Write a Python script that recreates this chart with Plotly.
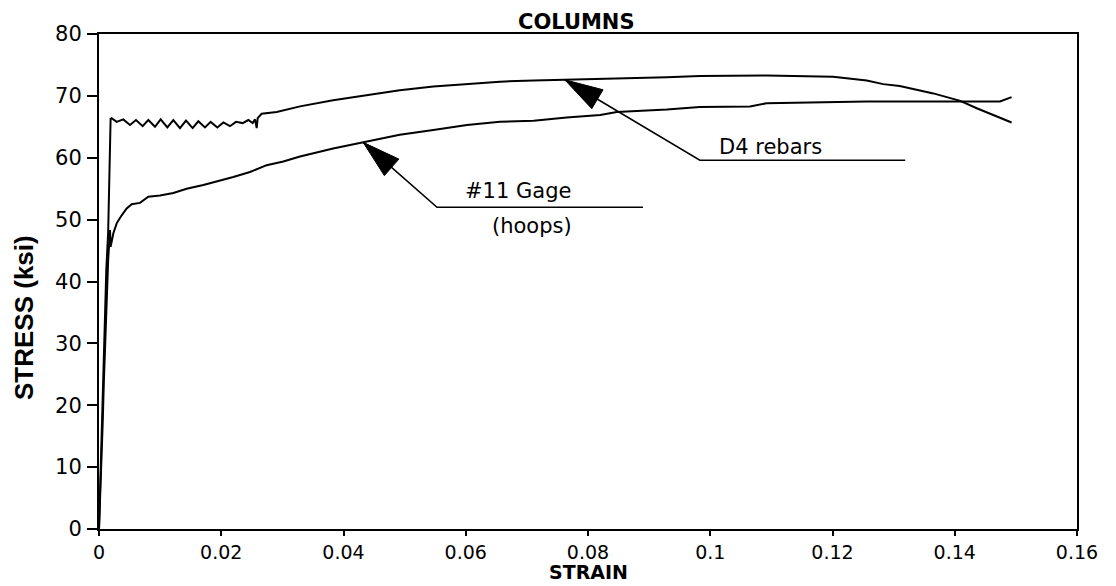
import plotly.graph_objects as go

# ---------------- data ----------------
d4_strain = [0.0, 0.0003, 0.0006, 0.0009, 0.0012, 0.0015, 0.0017, 0.0018, 0.0019, 0.00207,
             0.00289, 0.00398, 0.00507, 0.00605, 0.00714, 0.00807, 0.00916, 0.01009, 0.01118,
             0.01216, 0.01325, 0.01423, 0.01532, 0.01625, 0.01734, 0.01827, 0.01936, 0.02034,
             0.02143, 0.02241, 0.02350, 0.02443, 0.02514, 0.02552, 0.02580, 0.02596, 0.02661,
             0.02907, 0.03289, 0.0383, 0.0438, 0.0492, 0.0547, 0.0602, 0.0656, 0.0711, 0.0765,
             0.0820, 0.0874, 0.0929, 0.0983, 0.1092, 0.1201, 0.1229, 0.1256, 0.1283, 0.1310,
             0.1365, 0.1409, 0.1436, 0.1463, 0.1493]
d4_stress = [0.0, 10.0, 22.0, 33.0, 42.0, 48.0, 55.0, 62.0, 66.3, 66.4,
             65.8, 66.2, 65.3, 66.1, 65.1, 66.1, 65.0, 66.2, 64.9,
             66.1, 64.8, 66.0, 64.8, 65.9, 64.9, 65.8, 64.9, 65.7,
             65.1, 65.8, 65.6, 66.1, 65.6, 66.2, 64.8, 66.4, 67.1,
             67.4, 68.3, 69.3, 70.1, 70.9, 71.5, 71.9, 72.3, 72.5, 72.6,
             72.7, 72.8, 73.0, 73.2, 73.3, 73.1, 72.8, 72.5, 71.9, 71.6,
             70.4, 69.2, 68.0, 66.9, 65.7]

hoop_strain = [0.0, 0.0002, 0.0004, 0.0006, 0.0008, 0.0010, 0.00125, 0.0015, 0.0018, 0.0019,
               0.00235, 0.00289, 0.00371, 0.00453, 0.00535, 0.00671, 0.00807, 0.00998, 0.01216,
               0.01434, 0.01707, 0.01979, 0.02197, 0.02470, 0.02743, 0.03015, 0.03289, 0.0383,
               0.0438, 0.0492, 0.0547, 0.0602, 0.0656, 0.0711, 0.0765, 0.0820, 0.0847, 0.0929,
               0.0983, 0.1065, 0.1092, 0.1256, 0.1474, 0.1493]
hoop_stress = [0.0, 5.0, 10.0, 17.0, 24.0, 30.0, 34.3, 43.5, 48.3, 45.6,
               47.8, 49.4, 50.7, 51.8, 52.5, 52.7, 53.7, 53.9, 54.3,
               55.0, 55.6, 56.3, 56.9, 57.7, 58.8, 59.4, 60.2, 61.5,
               62.6, 63.7, 64.5, 65.3, 65.8, 66.0, 66.5, 66.9, 67.4, 67.8,
               68.2, 68.3, 68.8, 69.1, 69.1, 69.8]

x_ticks = [0, 0.02, 0.04, 0.06, 0.08, 0.10, 0.12, 0.14, 0.16]
x_tick_labels = ["0", "0.02", "0.04", "0.06", "0.08", "0.1", "0.12", "0.14", "0.16"]
y_ticks = [0, 10, 20, 30, 40, 50, 60, 70, 80]
y_tick_labels = ["0", "10", "20", "30", "40", "50", "60", "70", "80"]

title_text = "COLUMNS"
x_title = "STRAIN"
y_title = "STRESS (ksi)"
label_d4 = "D4 rebars"
label_hoop_1 = "#11 Gage"
label_hoop_2 = "(hoops)"

# ---------------- layout geometry ----------------
PAGE_OFF = 8                      # default <body> margin of the html page
W, H = 1116 - PAGE_OFF, 586 - PAGE_OFF
# plot area wanted on the page: x 99..1077, y 34..529
PL, PR, PT, PB = 99, 1077, 34, 529
L, T = PL - PAGE_OFF, PT - PAGE_OFF
R, B = W - (PR - PAGE_OFF), H - (PB - PAGE_OFF)
X_RANGE = [0.0, 0.16]
Y_RANGE = [0.0, 80.0]
PW, PH = PR - PL, PB - PT


def paper_x(page_x):
    return (page_x - PL) / PW


def paper_y(page_y):
    return (PB - page_y) / PH


# annotation leader geometry (tip, elbow, end) in data units
leader_d4 = [(0.0762, 72.6), (0.0983, 59.6), (0.1319, 59.6)]
leader_hoop = [(0.0432, 62.5), (0.0553, 52.0), (0.0890, 52.0)]
HEAD_LEN, HEAD_HALF = 38, 11  # px


def to_px(x, y):
    return (PL + (x - X_RANGE[0]) / (X_RANGE[1] - X_RANGE[0]) * PW,
            PT + (Y_RANGE[1] - y) / (Y_RANGE[1] - Y_RANGE[0]) * PH)


def to_data(px, py):
    return (X_RANGE[0] + (px - PL) / PW * (X_RANGE[1] - X_RANGE[0]),
            Y_RANGE[1] - (py - PT) / PH * (Y_RANGE[1] - Y_RANGE[0]))


def head_path(tip, tail):
    tx, ty = to_px(*tip)
    bx, by = to_px(*tail)
    dx, dy = bx - tx, by - ty
    n = (dx * dx + dy * dy) ** 0.5
    ux, uy = dx / n, dy / n
    cx, cy = tx + ux * HEAD_LEN, ty + uy * HEAD_LEN
    p1 = to_data(cx - uy * HEAD_HALF, cy + ux * HEAD_HALF)
    p2 = to_data(cx + uy * HEAD_HALF, cy - ux * HEAD_HALF)
    return f"M {tip[0]},{tip[1]} L {p1[0]},{p1[1]} L {p2[0]},{p2[1]} Z"


def poly_path(pts):
    return "M " + " L ".join(f"{x},{y}" for x, y in pts)


fig = go.Figure()
fig.add_trace(go.Scatter(x=hoop_strain, y=hoop_stress, mode="lines",
                         line=dict(color="black", width=2), name=label_hoop_1,
                         hoverinfo="skip"))
fig.add_trace(go.Scatter(x=d4_strain, y=d4_stress, mode="lines",
                         line=dict(color="black", width=2), name=label_d4,
                         hoverinfo="skip"))

shapes = []
for ld in (leader_d4, leader_hoop):
    shapes.append(dict(type="path", xref="x", yref="y", path=poly_path(ld),
                       line=dict(color="black", width=1.6)))
    shapes.append(dict(type="path", xref="x", yref="y", path=head_path(ld[0], ld[1]),
                       line=dict(color="black", width=1), fillcolor="black"))

SANS = "DejaVu Sans, Liberation Sans, Arial"
txt_font = dict(family=SANS, size=21, color="black")
annotations = [
    dict(text=label_d4, x=0.1099, y=61.7, xref="x", yref="y", showarrow=False,
         font=txt_font, xanchor="center", yanchor="middle"),
    dict(text=label_hoop_1, x=0.0686, y=54.6, xref="x", yref="y", showarrow=False,
         font=txt_font, xanchor="center", yanchor="middle"),
    dict(text=label_hoop_2, x=0.0708, y=48.9, xref="x", yref="y", showarrow=False,
         font=txt_font, xanchor="center", yanchor="middle"),
    dict(text=title_text, x=paper_x(576), y=paper_y(22), xref="paper", yref="paper",
         showarrow=False, xanchor="center", yanchor="middle",
         font=dict(family=SANS, size=21, color="black", weight="bold")),
    dict(text=x_title, x=paper_x(588), y=paper_y(572), xref="paper", yref="paper",
         showarrow=False, xanchor="center", yanchor="middle",
         font=dict(family=SANS, size=19, color="black", weight="bold")),
    dict(text=y_title, x=paper_x(24), y=paper_y(318), xref="paper", yref="paper",
         showarrow=False, xanchor="center", yanchor="middle", textangle=-90,
         font=dict(family="Liberation Sans Narrow, Liberation Sans, Arial", size=26,
                   color="black", weight="bold")),
]

fig.update_layout(
    width=W, height=H,
    margin=dict(l=L, r=R, t=T, b=B, autoexpand=False),
    paper_bgcolor="white", plot_bgcolor="white",
    showlegend=False,
    shapes=shapes, annotations=annotations,
    xaxis=dict(range=X_RANGE, tickmode="array", tickvals=x_ticks, ticktext=x_tick_labels,
               showgrid=False, zeroline=False, showline=True, linecolor="black",
               linewidth=2, mirror=True, ticks="outside", ticklen=5, tickwidth=1.5,
               tickcolor="black", tickfont=dict(family=SANS, size=19, color="black"),
               ticklabelstandoff=0),
    yaxis=dict(range=Y_RANGE, tickmode="array", tickvals=y_ticks, ticktext=y_tick_labels,
               showgrid=False, zeroline=False, showline=True, linecolor="black",
               linewidth=2, mirror=True, ticks="outside", ticklen=10, tickwidth=1.5,
               tickcolor="black", tickfont=dict(family=SANS, size=21, color="black"),
               ticklabelstandoff=1),
)

fig.write_html("out.html")
